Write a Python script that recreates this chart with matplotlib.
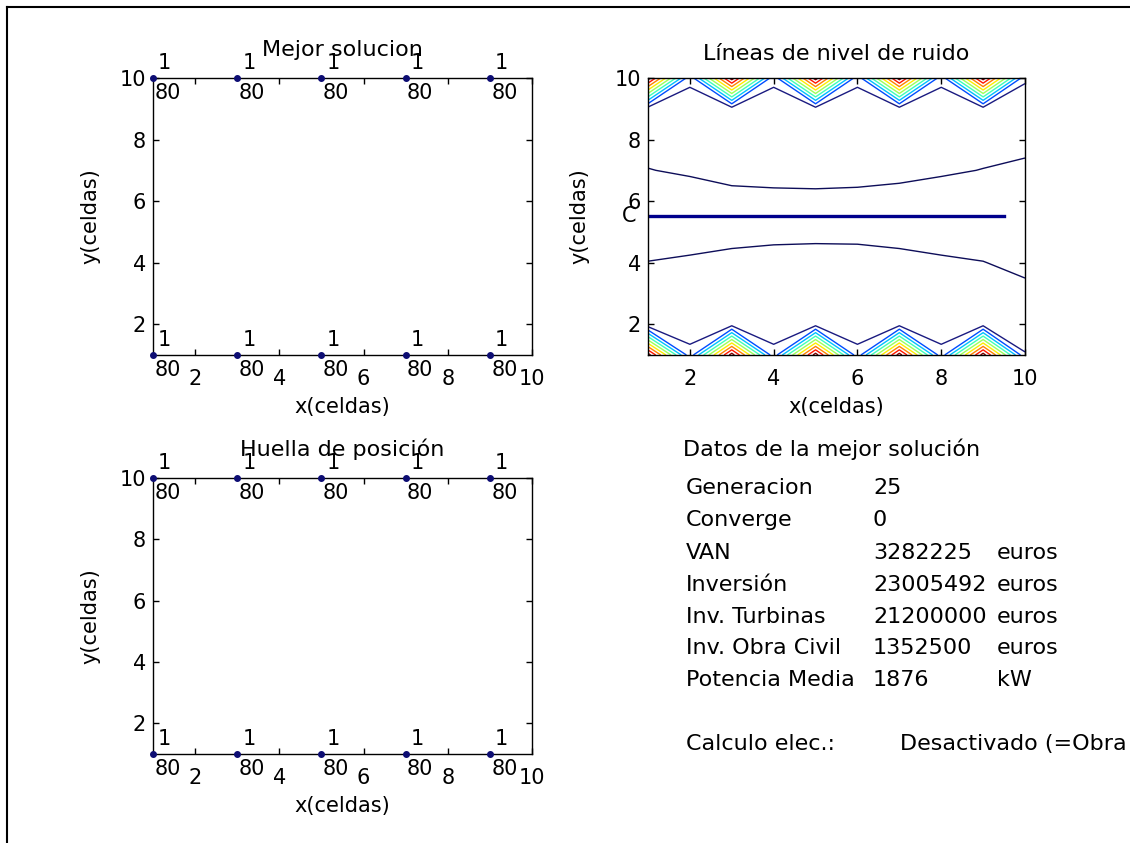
import numpy as np
import matplotlib
matplotlib.use("Agg")
import matplotlib.pyplot as plt
from matplotlib.lines import Line2D

# turbine layout (same layout in both left panels)
turb_x = [1, 3, 5, 7, 9, 1, 3, 5, 7, 9]
turb_y = [10, 10, 10, 10, 10, 1, 1, 1, 1, 1]
turb_type = ["1"] * 10
turb_height = ["80"] * 10

# noise grid, rows are y = 1..10, columns x = 1..10
grid_x = [1, 2, 3, 4, 5, 6, 7, 8, 9, 10]
grid_y = [1, 2, 3, 4, 5, 6, 7, 8, 9, 10]
noise = [
    [125, 43.2, 125, 43.2, 125, 43.2, 125, 43.2, 125, 41],
    [32.6, 34, 35.5, 34, 35.5, 34, 35.5, 34, 35.5, 31],
    [33, 33, 33, 33, 33, 33, 33, 33, 33, 32],
    [30.2, 31.3, 33.4, 35.5, 36.5, 36, 33.4, 31.3, 30.2, 28],
    [26, 26, 26, 26, 26, 26, 26, 26, 26, 26],
    [26, 26, 26, 26, 26, 26, 26, 26, 26, 26],
    [29.77, 31, 34, 35.3, 36, 34.9, 32.9, 31, 29.8, 28],
    [33, 33, 33, 33, 33, 33, 33, 33, 33, 33],
    [35, 34, 35.5, 34, 35.5, 34, 35.5, 34, 35.5, 31],
    [125, 42.6, 125, 42.6, 125, 42.6, 125, 42.6, 125, 42],
]
noise_levels = [30, 40, 50, 60, 70, 80, 90, 100, 110, 120]

# cable line
cable_x = [1, 9.5]
cable_y = [5.5, 5.5]
cable_label = "C"

# results panel
panel_title = "Datos de la mejor solución"
panel_labels = ["Generacion", "Converge", "VAN", "Inversión", "Inv. Turbinas",
                "Inv. Obra Civil", "Potencia Media"]
panel_values = ["25", "0", "3282225", "23005492", "21200000", "1352500", "1876"]
panel_units = ["", "", "euros", "euros", "euros", "euros", "kW"]
calc_label = "Calculo elec.:"
calc_value = "Desactivado (=Obra"

W, H = 1130, 843
navy = (0.05, 0.05, 0.45)
fs = 15


def rect(left, top, right, bottom):
    return [left / W, 1 - bottom / H, (right - left) / W, (bottom - top) / H]


def style_axes(ax, ylabelpad):
    ax.set_xlim(1, 10)
    ax.set_ylim(1, 10)
    ax.set_xticks([2, 4, 6, 8, 10])
    ax.set_yticks([2, 4, 6, 8, 10])
    ax.tick_params(direction="in", top=True, right=True, length=4, width=1,
                   labelsize=fs)
    ax.tick_params(axis="x", pad=10)
    ax.tick_params(axis="y", pad=5)
    for s in ax.spines.values():
        s.set_linewidth(1.0)
    ax.set_xlabel("x(celdas)", fontsize=fs, labelpad=6)
    ax.set_ylabel("y(celdas)", fontsize=fs, labelpad=ylabelpad)


def layout_panel(ax, title):
    style_axes(ax, 14)
    ax.set_title(title, fontsize=fs + 1, pad=16)
    ax.plot(turb_x, turb_y, ".", color=navy, markersize=8, clip_on=False, zorder=5)
    for x, y, t, h in zip(turb_x, turb_y, turb_type, turb_height):
        ax.text(x + 0.12, y + 0.5, t, fontsize=fs, ha="left", va="center")
        ax.text(x + 0.03, y - 0.5, h, fontsize=fs, ha="left", va="center")


fig = plt.figure(figsize=(W / 100, H / 100), dpi=100)

ax1 = fig.add_axes(rect(153, 78, 532, 355))
layout_panel(ax1, "Mejor solucion")

ax3 = fig.add_axes(rect(153, 478, 532, 754))
layout_panel(ax3, "Huella de posición")

# noise contour panel
ax2 = fig.add_axes(rect(648, 78, 1025, 355))
jet = plt.cm.jet
line_colors = [(0.05, 0.05, 0.35), (0.1, 0.1, 0.5)] + [jet(v) for v in np.linspace(0.2, 1.0, 8)]
ax2.contour(grid_x, grid_y, np.array(noise), levels=noise_levels, colors=line_colors,
            linewidths=1.0)
ax2.plot(cable_x, cable_y, color=(0.0, 0.0, 0.55), linewidth=2.4)
ax2.text(cable_x[0] - 0.45, cable_y[0], cable_label, fontsize=fs, ha="center", va="center")
style_axes(ax2, 18)
ax2.set_title("Líneas de nivel de ruido", fontsize=fs + 1, pad=13)

# text panel
pfs = 16
fig.text(683 / W, 1 - 449 / H, panel_title, fontsize=pfs, va="center")
row_y = [488, 520, 553, 585, 617, 648, 680]
for yy, lab, val, unit in zip(row_y, panel_labels, panel_values, panel_units):
    fig.text(686 / W, 1 - yy / H, lab, fontsize=pfs, va="center")
    fig.text(873 / W, 1 - yy / H, val, fontsize=pfs, va="center")
    if unit:
        fig.text(997 / W, 1 - yy / H, unit, fontsize=pfs, va="center")
fig.text(686 / W, 1 - 744 / H, calc_label, fontsize=pfs, va="center")
fig.text(900 / W, 1 - 744 / H, calc_value, fontsize=pfs, va="center")

# window frame
fig.add_artist(Line2D([7 / W, 1], [1 - 7 / H, 1 - 7 / H], transform=fig.transFigure,
                      color="black", linewidth=1.5))
fig.add_artist(Line2D([7 / W, 7 / W], [0, 1 - 7 / H], transform=fig.transFigure,
                      color="black", linewidth=1.5))

fig.savefig("out.png", dpi=100)
